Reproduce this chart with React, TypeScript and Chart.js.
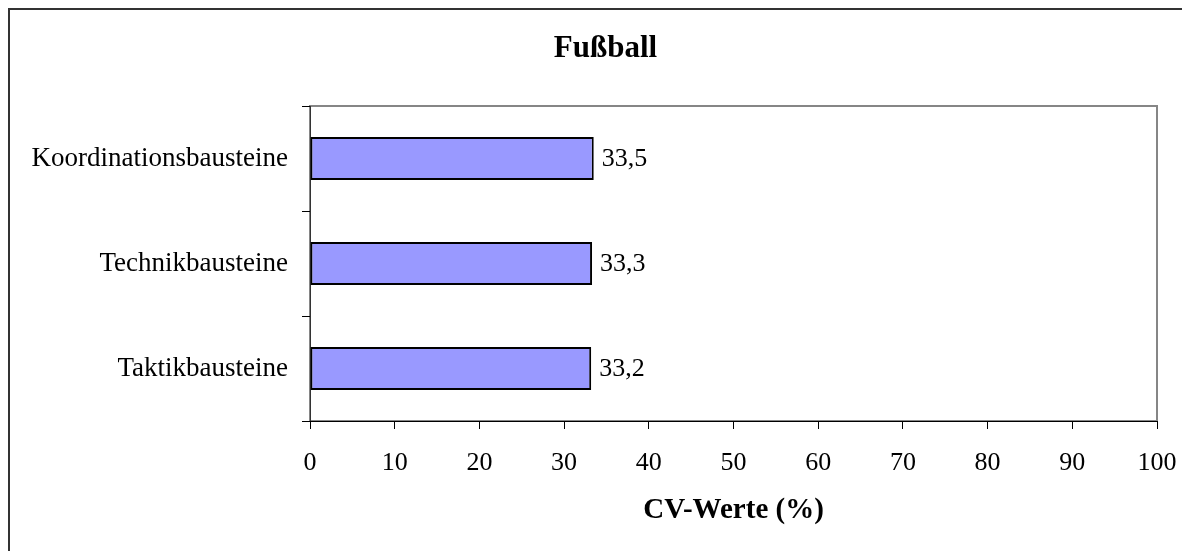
import React, { useEffect, useRef } from "react";
import { Chart, registerables } from "chart.js";

Chart.register(...registerables);

const categories = ["Koordinationsbausteine", "Technikbausteine", "Taktikbausteine"];
const cvValues = [33.5, 33.3, 33.2];
const xTickMin = 0;
const xTickMax = 100;
const xTickStep = 10;
const chartTitle = "Fußball";
const xAxisTitle = "CV-Werte (%)";

const SERIF = "'Liberation Serif', 'Times New Roman', serif";

const framePlugin = {
  id: "frame",
  beforeDraw(chart: any) {
    const { ctx, chartArea } = chart;
    ctx.save();
    // outer chart border (right/bottom lie beyond the visible window)
    ctx.strokeStyle = "#333333";
    ctx.lineWidth = 2;
    ctx.strokeRect(1, 1, chart.width + 10, chart.height + 10);
    // plot area outline
    ctx.strokeStyle = "#868686";
    ctx.lineWidth = 2;
    ctx.strokeRect(
      chartArea.left,
      chartArea.top,
      chartArea.right - chartArea.left,
      chartArea.bottom - chartArea.top
    );
    ctx.restore();
  },
  afterDraw(chart: any) {
    const { ctx } = chart;
    ctx.save();
    ctx.font = `bold 31px ${SERIF}`;
    ctx.fillStyle = "#000000";
    ctx.textAlign = "center";
    ctx.textBaseline = "alphabetic";
    ctx.fillText(chartTitle, chart.width / 2, 49);
    ctx.restore();
  },
};

const valueLabelPlugin = {
  id: "valueLabels",
  afterDatasetsDraw(chart: any) {
    const { ctx } = chart;
    const meta = chart.getDatasetMeta(0);
    ctx.save();
    ctx.font = `26px ${SERIF}`;
    ctx.fillStyle = "#000000";
    ctx.textAlign = "left";
    ctx.textBaseline = "middle";
    meta.data.forEach((bar: any, i: number) => {
      const v = chart.data.datasets[0].data[i] as number;
      const txt = v.toFixed(1).replace(".", ",");
      ctx.fillText(txt, bar.x + 8, bar.y + 1);
    });
    ctx.restore();
  },
};

export default function App() {
  const ref = useRef<HTMLCanvasElement | null>(null);

  useEffect(() => {
    if (!ref.current) return;
    const chart = new Chart(ref.current, {
      type: "bar",
      data: {
        labels: categories,
        datasets: [
          {
            data: cvValues,
            backgroundColor: "#9999FF",
            borderColor: "#000000",
            borderWidth: 2,
            borderSkipped: false,
            categoryPercentage: 1,
            barPercentage: 0.41,
          },
        ],
      },
      options: {
        indexAxis: "y",
        responsive: false,
        animation: false,
        devicePixelRatio: 1,
        layout: { padding: { top: 98, left: 0, right: 46, bottom: 0 } },
        plugins: {
          legend: { display: false },
          tooltip: { enabled: false },
          title: { display: false },
        },
        scales: {
          y: {
            type: "category",
            offset: true,
            grid: {
              offset: true,
              drawOnChartArea: false,
              drawTicks: true,
              tickLength: 8,
              color: "#000000",
            },
            border: { display: true, color: "#333333", width: 1 },
            ticks: {
              color: "#000000",
              padding: 14,
              font: { family: SERIF, size: 27 },
            },
            afterFit(scale: any) {
              scale.width = 302;
            },
          },
          x: {
            type: "linear",
            min: xTickMin,
            max: xTickMax,
            grid: {
              drawOnChartArea: false,
              drawTicks: true,
              tickLength: 8,
              color: "#000000",
            },
            border: { display: true, color: "#000000", width: 1 },
            ticks: {
              stepSize: xTickStep,
              color: "#000000",
              padding: 19,
              font: { family: SERIF, size: 26 },
              callback: (v: any) => String(v),
            },
            title: {
              display: true,
              text: xAxisTitle,
              color: "#000000",
              font: { family: SERIF, size: 29, weight: "bold" },
              padding: { top: 0, bottom: 23 },
            },
            afterFit(scale: any) {
              scale.height = 130;
            },
          },
        },
      },
      plugins: [framePlugin, valueLabelPlugin],
    });
    return () => chart.destroy();
  }, []);

  return (
    <div style={{ width: "1182px", height: "543px", overflow: "hidden" }}>
      <canvas
        ref={ref}
        width={1195}
        height={543}
        style={{ display: "block", width: "1195px", height: "543px" }}
      />
    </div>
  );
}
